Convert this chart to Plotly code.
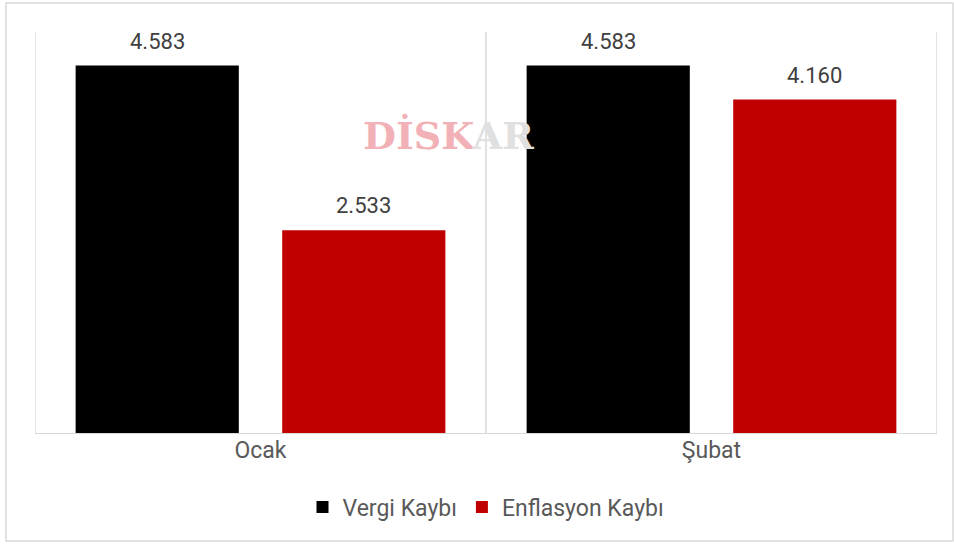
import plotly.graph_objects as go

categories = ["Ocak", "Şubat"]
vergi_kaybi = [4.583, 4.583]
enflasyon_kaybi = [2.533, 4.160]
vergi_labels = ["4.583", "4.583"]
enflasyon_labels = ["2.533", "4.160"]

FONT = "Roboto, DejaVu Sans, sans-serif"
GRAY = "#595959"
LABEL = "#404040"

fig = go.Figure()
fig.add_trace(go.Bar(
    name="Vergi Kaybı", x=categories, y=vergi_kaybi,
    marker=dict(color="#000000", line=dict(width=0)),
))
fig.add_trace(go.Bar(
    name="Enflasyon Kaybı", x=categories, y=enflasyon_kaybi,
    marker=dict(color="#C00000", line=dict(width=0)),
))

W, H = 954, 544
L, R, T, B = 35, 17, 32, 110
pw = W - L - R
ph = H - T - B

def px_to_paper_x(px):
    return (px - L) / pw

def px_to_paper_y(py):
    return (H - B - py) / ph

shapes = []
for xv in [-0.5, 0.5, 1.5]:
    shapes.append(dict(type="line", xref="x", yref="y", x0=xv, x1=xv, y0=0, y1=5,
                       line=dict(color="#d9d9d9", width=1.5), layer="below"))
shapes.append(dict(type="line", xref="x", yref="y", x0=-0.5, x1=1.5, y0=0, y1=0,
                   line=dict(color="#d9d9d9", width=1.8), layer="above"))
shapes.append(dict(type="rect", xref="paper", yref="paper",
                   x0=px_to_paper_x(6), x1=px_to_paper_x(953),
                   y0=px_to_paper_y(541), y1=px_to_paper_y(3),
                   line=dict(color="#d9d9d9", width=1.5)))

BARGAP = 0.084
n_cat = len(categories)
slot_shift = pw / n_cat * (1 - BARGAP) / 4  # offset of bar centre from category centre, px
annotations = []
for cat, v, lab in zip(categories, vergi_kaybi, vergi_labels):
    annotations.append(dict(x=cat, y=v, xref="x", yref="y", text=lab, showarrow=False,
                            xshift=-slot_shift, yshift=10, yanchor="bottom",
                            font=dict(size=22, color=LABEL, family=FONT)))
for cat, v, lab in zip(categories, enflasyon_kaybi, enflasyon_labels):
    annotations.append(dict(x=cat, y=v, xref="x", yref="y", text=lab, showarrow=False,
                            xshift=slot_shift, yshift=10, yanchor="bottom",
                            font=dict(size=22, color=LABEL, family=FONT)))
annotations.append(dict(
    xref="paper", yref="paper",
    x=px_to_paper_x(448), y=px_to_paper_y(135),
    xanchor="center", yanchor="middle", showarrow=False,
    text="<b><span style='color:#f2b1b6'>DİSK</span><span style='color:#e0e0e0'>AR</span></b>",
    font=dict(size=38, family="DejaVu Serif, serif"),
))

fig.update_layout(
    width=W, height=H,
    margin=dict(l=L, r=R, t=T, b=B),
    paper_bgcolor="white", plot_bgcolor="white",
    barmode="group", bargap=BARGAP, bargroupgap=0.21,
    font=dict(family=FONT, color=GRAY, size=18),
    xaxis=dict(showgrid=False, showline=False, zeroline=False, ticks="",
               tickfont=dict(size=23, color=GRAY), range=[-0.5, 1.5]),
    yaxis=dict(range=[0, 5], showgrid=False, zeroline=False, showticklabels=False,
               showline=False),
    legend=dict(orientation="h", x=0.5, xanchor="center",
                y=px_to_paper_y(507), yanchor="middle",
                font=dict(size=23, color=GRAY), traceorder="normal"),
    shapes=shapes,
    annotations=annotations,
)

fig.write_html("out.html", config={"displayModeBar": False},
               post_script="document.body.style.margin='0px';")
